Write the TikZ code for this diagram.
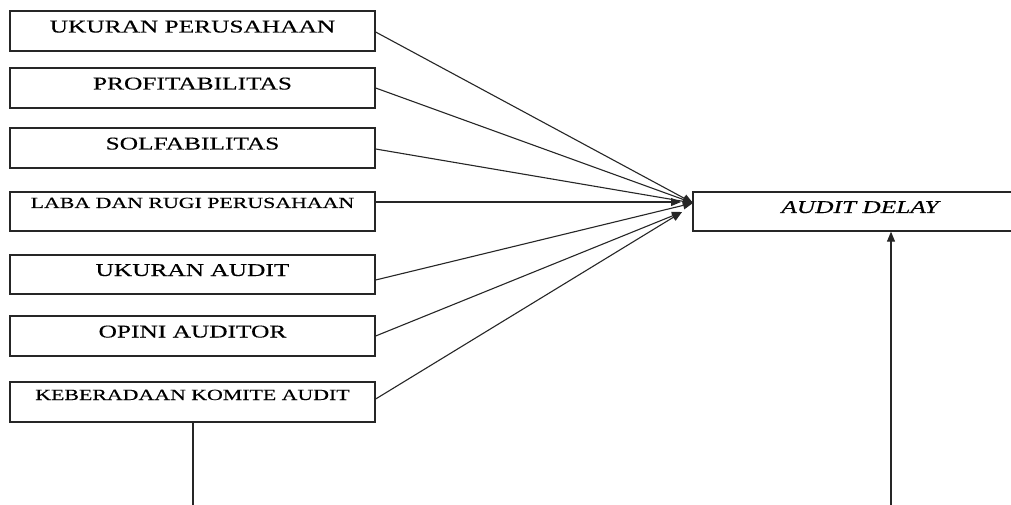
\documentclass[tikz,border=0pt]{standalone}
\usepackage{fontspec}
\setmainfont{Liberation Serif}
\newfontfamily\wideserif[FakeStretch=1.41,FakeBold=0.3]{Liberation Serif}
\usetikzlibrary{arrows.meta}
\tikzset{
  varbox/.style={draw=black!85, line width=1.3pt, inner sep=0pt, minimum width=365pt, minimum height=40pt,
    font=\wideserif\fontsize{18}{20}\selectfont, text height=12pt, text depth=9pt},
  smallbox/.style={varbox, minimum height=39pt, font=\wideserif\fontsize{15.5}{18}\selectfont},
  outbox/.style={draw=black!85, line width=1.3pt, inner sep=0pt, minimum width=334pt, minimum height=39pt,
    font=\wideserif\itshape\fontsize{18}{20}\selectfont, text height=12pt, text depth=9pt},
  conn/.style={line width=1.1pt, draw=black!85},
  arr/.style={conn, -{Triangle[length=10pt,width=8pt]}}
}
\begin{document}
\begin{tikzpicture}[x=1pt,y=1pt]
\clip (0,0) rectangle (1011,504);
\fill[white] (0,0) rectangle (1011,504);
\node[varbox] (b1) at (192.5,473) {UKURAN PERUSAHAAN};
\node[varbox] (b2) at (192.5,416) {PROFITABILITAS};
\node[varbox] (b3) at (192.5,356) {SOLFABILITAS};
\node[smallbox, text height=10pt, text depth=17pt] (b4) at (192.5,292.5) {LABA DAN RUGI PERUSAHAAN};
\node[varbox, minimum height=39pt] (b5) at (192.5,229.5) {UKURAN AUDIT};
\node[varbox] (b6) at (192.5,168) {OPINI AUDITOR};
\node[smallbox, minimum height=40pt, text height=10pt, text depth=14pt] (b7) at (192.5,102) {KEBERADAAN KOMITE AUDIT};
\node[outbox] (ad) at (860,292.5) {AUDIT DELAY};
\coordinate (t1) at (693,301);
\coordinate (t2) at (681,302);
\coordinate (t3) at (682,292);
\coordinate (bl) at (193,-2);
\coordinate (br) at (891,-2);
\draw[arr] ([yshift=-1pt]b1.east) -- (t1);
\draw[arr] (b2.east) -- (t1);
\draw[arr] ([yshift=-1pt]b3.east) -- (t1);
\draw[arr] ([yshift=9.5pt]b4.east) -- (t2);
\draw[arr] ([yshift=-5.5pt]b5.east) -- (t1);
\draw[arr] (b6.east) -- (t3);
\draw[arr] ([yshift=3pt]b7.east) -- (t3);
\draw[conn] (b7.south -| bl) -- (bl);
\draw[arr] (br) -- (br |- ad.south);
\end{tikzpicture}
\end{document}
